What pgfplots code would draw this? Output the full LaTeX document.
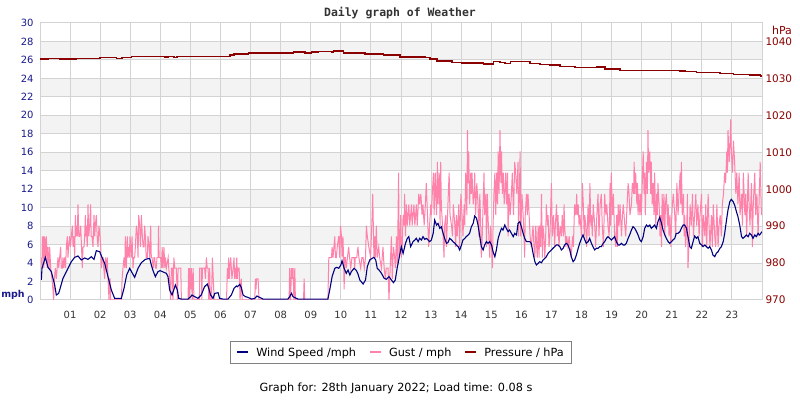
\documentclass[border=0pt]{standalone}
\usepackage{fontspec}
\setmainfont{DejaVu Sans}
\newfontfamily\titlefont{DejaVu Sans Mono}
\usepackage{pgfplots}
\pgfplotsset{compat=1.18}

\definecolor{windblue}{RGB}{0,0,128}
\definecolor{gustpink}{RGB}{255,130,170}
\definecolor{presred}{RGB}{139,0,0}
\definecolor{tickblue}{RGB}{26,26,140}
\definecolor{gridgray}{RGB}{211,211,211}
\definecolor{bandgray}{RGB}{243,243,243}
\definecolor{labgray}{RGB}{51,51,51}

\pgfplotsset{chartbox/.style={at={(40bp,100bp)}, anchor=south west,
  width=722bp, height=277bp, scale only axis, xmin=0, xmax=24}}

\begin{document}
\begin{tikzpicture}
\useasboundingbox (0,0) rectangle (800bp,400bp);

% background bands
\begin{axis}[chartbox, ymin=0, ymax=30, hide axis]
\addplot[draw=none, fill=bandgray] coordinates {(0,2) (24,2) (24,4) (0,4) (0,2)};
\addplot[draw=none, fill=bandgray] coordinates {(0,6) (24,6) (24,8) (0,8) (0,6)};
\addplot[draw=none, fill=bandgray] coordinates {(0,10) (24,10) (24,12) (0,12) (0,10)};
\addplot[draw=none, fill=bandgray] coordinates {(0,14) (24,14) (24,16) (0,16) (0,14)};
\addplot[draw=none, fill=bandgray] coordinates {(0,18) (24,18) (24,20) (0,20) (0,18)};
\addplot[draw=none, fill=bandgray] coordinates {(0,22) (24,22) (24,24) (0,24) (0,22)};
\addplot[draw=none, fill=bandgray] coordinates {(0,26) (24,26) (24,28) (0,28) (0,26)};
\end{axis}

% left axis: wind and gust in mph
\begin{axis}[
  chartbox, ymin=0, ymax=30,
  xtick={1,...,23},
  xticklabels={01,02,03,04,05,06,07,08,09,10,11,12,13,14,15,16,17,18,19,20,21,22,23},
  ytick={0,2,...,30},
  grid=major,
  major grid style={gridgray, line width=1bp},
  major tick length=0pt,
  axis line style={gridgray, line width=1bp},
  /pgf/number format/assume math mode=true,
  tick label style={font=\fontsize{10}{12}\selectfont},
  xticklabel style={labgray, yshift=-8bp},
  yticklabel style={tickblue, xshift=-3bp},
]
% gust
\addplot[gustpink, line width=1bp] coordinates {
(0.044,4.6)(0.066,3.45)(0.078,6.9)(0.10,4.6)(0.111,6.9)(0.13,3.45)(0.155,6.9)(0.18,4.6)(0.211,6.9)(0.24,3.45)
(0.266,5.75)(0.30,3.45)(0.321,5.75)(0.355,3.45)(0.399,2.3)(0.43,1.15)(0.454,0)(0.48,2.3)(0.510,3.45)(0.543,2.3)
(0.57,3.45)(0.598,4.6)(0.62,3.45)(0.654,4.6)(0.687,5.75)(0.709,3.45)(0.74,3.45)(0.765,4.6)(0.79,3.45)(0.820,4.6)
(0.85,3.45)(0.876,5.75)(0.909,6.9)(0.93,4.6)(0.953,5.75)(0.986,6.9)(1.01,5.75)(1.042,6.9)(1.075,8.05)(1.10,5.75)
(1.130,6.9)(1.153,4.6)(1.175,9.2)(1.20,6.9)(1.219,8.05)(1.24,6.9)(1.263,10.35)(1.29,6.9)(1.319,6.9)(1.352,8.05)
(1.38,5.75)(1.407,3.45)(1.43,5.75)(1.463,5.75)(1.485,6.9)(1.507,9.2)(1.52,6.9)(1.540,8.05)(1.57,5.75)(1.596,10.35)
(1.62,6.9)(1.651,8.05)(1.684,10.35)(1.70,6.9)(1.729,6.9)(1.762,5.75)(1.795,9.2)(1.82,6.9)(1.840,8.05)(1.873,9.2)
(1.90,6.9)(1.928,5.75)(1.961,8.05)(1.995,6.9)(2.02,5.75)(2.039,3.45)(2.07,4.6)(2.094,4.6)(2.12,3.45)(2.150,2.3)
(2.18,4.6)(2.205,3.45)(2.238,4.6)(2.261,2.3)(2.294,0)(2.31,2.3)(2.327,2.3)(2.35,0)(2.704,0)(2.73,2.3)
(2.759,3.45)(2.793,4.6)(2.82,3.45)(2.837,6.9)(2.870,3.45)(2.903,6.9)(2.92,4.6)(2.948,5.75)(2.97,4.6)(2.992,6.9)
(3.036,4.6)(3.06,6.9)(3.092,3.45)(3.12,4.6)(3.147,4.6)(3.17,5.75)(3.203,8.05)(3.236,6.9)(3.26,4.6)(3.280,9.2)
(3.313,8.05)(3.34,5.75)(3.369,9.2)(3.402,6.9)(3.43,5.75)(3.458,5.75)(3.48,8.05)(3.502,6.9)(3.53,4.6)(3.568,4.6)
(3.59,6.9)(3.624,5.75)(3.65,4.6)(3.679,8.05)(3.70,4.6)(3.723,4.6)(3.768,3.45)(3.79,4.6)(3.812,4.6)(3.84,3.45)
(3.867,3.45)(3.89,4.6)(3.923,4.6)(3.94,8.05)(3.96,4.6)(4.01,4.6)(4.04,3.45)(4.06,5.75)(4.09,3.45)(4.12,5.75)
(4.15,3.45)(4.17,4.6)(4.20,3.45)(4.26,4.6)(4.28,3.45)(4.31,2.3)(4.34,0)(4.37,3.45)(4.40,3.45)(4.42,0)
(4.45,4.6)(4.48,3.45)(4.53,3.45)(4.57,0)(4.59,3.45)(4.68,3.45)(4.70,0)(4.92,0)(4.94,3.45)(4.96,0)
(4.98,3.45)(5.01,1.15)(5.03,3.45)(5.06,0)(5.09,3.45)(5.12,0)(5.30,0)(5.31,3.45)(5.36,3.45)(5.38,0)
(5.40,3.45)(5.47,3.45)(5.50,2.3)(5.53,4.6)(5.56,3.45)(5.59,3.45)(5.61,0)(5.64,3.45)(5.66,0)(5.70,0)
(5.73,4.6)(5.76,2.3)(5.79,0)(6.20,0)(6.23,3.45)(6.25,2.3)(6.27,4.6)(6.29,2.3)(6.31,3.45)(6.34,4.6)
(6.36,3.45)(6.38,2.3)(6.42,3.45)(6.45,4.6)(6.47,2.3)(6.49,3.45)(6.52,2.3)(6.54,4.6)(6.56,2.3)(6.58,3.45)
(6.62,3.45)(6.65,0)(6.69,2.3)(6.72,0)(7.14,0)(7.16,2.3)(7.18,1.15)(7.20,2.3)(7.25,2.3)(7.28,0)
(8.28,0)(8.30,3.45)(8.33,0)(8.36,3.45)(8.38,2.3)(8.41,3.45)(8.44,0)(8.47,3.45)(8.49,0)(8.76,0)
(8.78,2.3)(8.80,0)(9.57,0)(9.60,4.6)(9.65,4.6)(9.69,4.6)(9.71,5.75)(9.74,4.6)(9.77,5.75)(9.80,6.9)
(9.82,4.6)(9.85,4.6)(9.88,5.75)(9.93,6.9)(9.96,4.6)(9.99,8.05)(10.02,6.9)(10.04,4.6)(10.07,6.9)(10.09,4.6)
(10.11,1.15)(10.13,4.6)(10.15,4.6)(10.18,3.45)(10.22,4.6)(10.26,5.75)(10.29,4.6)(10.33,3.45)(10.37,4.6)(10.44,4.6)
(10.46,3.45)(10.48,4.6)(10.53,4.6)(10.57,5.75)(10.60,4.6)(10.66,3.45)(10.70,4.6)(10.74,4.6)(10.78,3.45)(10.82,4.6)
(10.85,8.05)(10.88,6.9)(10.93,5.75)(10.99,4.6)(11.04,9.2)(11.06,11.5)(11.08,8.05)(11.10,4.6)(11.13,6.9)(11.15,4.6)
(11.18,8.05)(11.21,4.6)(11.26,5.75)(11.29,4.6)(11.35,3.45)(11.40,5.75)(11.44,3.45)(11.48,2.3)(11.51,3.45)(11.57,3.45)
(11.60,0)(11.64,3.45)(11.68,6.9)(11.71,2.3)(11.75,5.75)(11.79,4.6)(11.81,3.45)(11.85,6.9)(11.88,3.45)(11.92,13.8)
(11.94,4.6)(11.97,6.9)(11.99,9.2)(12.01,4.6)(12.04,5.75)(12.07,9.2)(12.10,8.05)(12.12,11.5)(12.15,6.9)(12.18,10.35)
(12.21,8.05)(12.26,10.35)(12.29,8.05)(12.32,9.2)(12.35,10.35)(12.37,8.05)(12.40,9.2)(12.43,10.35)(12.46,8.05)(12.51,10.35)
(12.54,8.05)(12.59,11.5)(12.62,10.35)(12.66,11.5)(12.70,9.2)(12.73,10.35)(12.77,8.05)(12.81,10.35)(12.84,12.65)(12.88,9.2)
(12.92,5.75)(12.95,8.05)(12.99,10.35)(13.01,9.2)(13.04,11.5)(13.08,13.8)(13.10,9.2)(13.12,11.5)(13.14,13.8)(13.18,9.2)
(13.21,14.95)(13.23,10.35)(13.27,13.8)(13.30,8.05)(13.32,14.95)(13.34,10.35)(13.38,8.05)(13.40,6.9)(13.43,4.6)(13.45,8.05)
(13.49,9.2)(13.51,5.75)(13.56,10.35)(13.60,13.8)(13.63,9.2)(13.68,8.05)(13.71,6.9)(13.74,10.35)(13.79,8.05)(13.82,5.75)
(13.84,9.2)(13.87,6.9)(13.92,10.35)(13.95,5.75)(13.99,11.5)(14.03,9.2)(14.06,6.9)(14.10,10.35)(14.12,8.05)(14.15,13.8)
(14.19,9.2)(14.21,18.4)(14.23,12.65)(14.25,16.1)(14.28,10.35)(14.32,13.8)(14.34,11.5)(14.36,13.8)(14.40,10.35)(14.43,11.5)
(14.45,13.8)(14.48,9.2)(14.52,12.65)(14.56,10.35)(14.59,6.9)(14.62,11.5)(14.65,8.05)(14.67,4.6)(14.69,5.75)(14.73,10.35)
(14.76,13.8)(14.78,9.2)(14.82,11.5)(14.84,5.75)(14.87,11.5)(14.89,9.2)(14.92,6.9)(14.95,4.6)(14.98,8.05)(15.01,5.75)
(15.04,3.45)(15.06,8.05)(15.09,11.5)(15.12,13.8)(15.15,9.2)(15.18,13.8)(15.21,10.35)(15.23,16.1)(15.26,11.5)(15.29,18.4)
(15.32,12.65)(15.34,16.1)(15.37,11.5)(15.40,13.8)(15.43,10.35)(15.45,11.5)(15.48,13.8)(15.51,10.35)(15.54,13.8)(15.56,6.9)
(15.59,11.5)(15.63,9.2)(15.67,11.5)(15.70,13.8)(15.74,9.2)(15.78,14.95)(15.81,13.8)(15.85,11.5)(15.89,14.95)(15.91,6.9)
(15.96,16.1)(15.98,6.9)(16.00,9.2)(16.02,11.5)(16.06,9.2)(16.09,6.9)(16.11,4.6)(16.13,9.2)(16.17,11.5)(16.20,9.2)
(16.22,11.5)(16.26,9.2)(16.29,6.9)(16.33,5.75)(16.36,6.9)(16.39,8.05)(16.42,5.75)(16.45,4.6)(16.48,8.05)(16.51,5.75)
(16.53,4.6)(16.56,8.05)(16.59,4.6)(16.61,8.05)(16.64,5.75)(16.67,11.5)(16.70,4.6)(16.72,8.05)(16.75,6.9)(16.78,4.6)
(16.81,6.9)(16.83,10.35)(16.87,8.05)(16.89,9.2)(16.92,5.75)(16.95,6.9)(17.00,12.65)(17.03,6.9)(17.07,9.2)(17.11,5.75)
(17.13,8.05)(17.17,10.35)(17.20,6.9)(17.22,9.2)(17.25,5.75)(17.29,8.05)(17.33,6.9)(17.36,9.2)(17.40,6.9)(17.42,10.35)
(17.44,8.05)(17.48,5.75)(17.51,6.9)(17.55,5.75)(17.59,6.9)(17.62,5.75)(17.66,4.6)(17.70,6.9)(17.73,5.75)(17.77,10.35)
(17.81,9.2)(17.84,11.5)(17.86,9.2)(17.89,10.35)(17.92,8.05)(17.95,9.2)(18.00,6.9)(18.03,12.65)(18.06,10.35)(18.09,6.9)
(18.11,9.2)(18.14,8.05)(18.17,5.75)(18.22,10.35)(18.25,6.9)(18.28,12.65)(18.31,8.05)(18.33,9.2)(18.36,6.9)(18.39,10.35)
(18.44,8.05)(18.47,5.75)(18.51,9.2)(18.55,11.5)(18.58,6.9)(18.62,10.35)(18.66,11.5)(18.69,8.05)(18.73,5.75)(18.77,11.5)
(18.81,9.2)(18.84,10.35)(18.88,8.05)(18.92,6.9)(18.95,12.65)(18.97,8.05)(18.99,13.8)(19.03,9.2)(19.06,11.5)(19.10,6.9)
(19.14,5.75)(19.17,9.2)(19.19,5.75)(19.22,10.35)(19.25,8.05)(19.28,10.35)(19.33,6.9)(19.36,9.2)(19.39,10.35)(19.44,8.05)
(19.47,6.9)(19.50,9.2)(19.55,12.65)(19.58,11.5)(19.61,9.2)(19.66,10.35)(19.69,12.65)(19.73,11.5)(19.75,14.95)(19.77,11.5)
(19.80,13.8)(19.84,10.35)(19.86,12.65)(19.88,9.2)(19.91,11.5)(19.94,9.2)(19.97,11.5)(19.99,9.2)(20.02,12.65)(20.05,16.1)
(20.08,11.5)(20.10,13.8)(20.12,9.2)(20.16,14.95)(20.19,11.5)(20.21,18.4)(20.23,13.8)(20.27,16.1)(20.30,11.5)(20.32,14.95)
(20.35,10.35)(20.38,12.65)(20.41,9.2)(20.43,13.8)(20.47,8.05)(20.50,11.5)(20.52,9.2)(20.54,12.65)(20.58,10.35)(20.61,6.9)
(20.63,9.2)(20.66,5.75)(20.68,11.5)(20.71,8.05)(20.74,11.5)(20.77,6.9)(20.79,10.35)(20.82,11.5)(20.86,8.05)(20.88,10.35)
(20.91,6.9)(20.94,9.2)(20.97,5.75)(20.99,8.05)(21.02,10.35)(21.05,11.5)(21.10,9.2)(21.13,6.9)(21.17,12.65)(21.21,9.2)
(21.24,11.5)(21.28,13.8)(21.30,10.35)(21.32,14.95)(21.35,9.2)(21.39,11.5)(21.41,6.9)(21.43,9.2)(21.46,5.75)(21.50,8.05)
(21.52,11.5)(21.54,3.45)(21.58,6.9)(21.61,10.35)(21.65,8.05)(21.69,11.5)(21.72,6.9)(21.76,9.2)(21.80,11.5)(21.83,8.05)
(21.87,10.35)(21.91,6.9)(21.94,9.2)(21.99,11.5)(22.02,5.75)(22.05,9.2)(22.10,6.9)(22.13,10.35)(22.16,5.75)(22.21,11.5)
(22.24,8.05)(22.27,5.75)(22.32,9.2)(22.35,5.75)(22.38,10.35)(22.43,6.9)(22.46,5.75)(22.50,10.35)(22.54,5.75)(22.57,8.05)
(22.61,9.2)(22.65,6.9)(22.68,10.35)(22.72,11.5)(22.76,13.8)(22.79,12.65)(22.83,16.1)(22.85,13.8)(22.87,18.4)(22.91,14.95)
(22.94,17.25)(22.96,19.55)(22.98,16.1)(23.02,13.8)(23.05,17.25)(23.09,14.95)(23.13,11.5)(23.16,13.8)(23.20,10.35)(23.24,13.8)
(23.27,9.2)(23.32,11.5)(23.35,8.05)(23.38,13.8)(23.43,9.2)(23.46,11.5)(23.49,6.9)(23.54,13.8)(23.57,10.35)(23.60,8.05)
(23.65,12.65)(23.68,5.75)(23.71,10.35)(23.76,13.8)(23.79,9.2)(23.83,11.5)(23.87,6.9)(23.90,10.35)(23.94,14.95)(23.98,9.2)
};

% wind speed
\addplot[windblue, line width=1.1bp] coordinates {
(0.044,2.17)(0.066,3.43)(0.177,4.62)(0.266,3.54)(0.377,3.07)(0.488,1.62)(0.543,0.54)(0.621,0.72)(0.765,2.35)(0.931,3.43)
(1.042,4.15)(1.153,4.62)(1.263,4.77)(1.374,4.33)(1.485,4.55)(1.596,4.40)(1.707,4.69)(1.795,4.40)(1.873,5.34)(1.984,5.23)
(2.061,4.62)(2.150,3.97)(2.261,2.53)(2.371,1.08)(2.482,0.18)(2.704,0.18)(2.793,1.26)(2.881,2.71)(2.981,3.43)(3.147,2.45)
(3.258,3.43)(3.369,4.04)(3.502,4.40)(3.646,4.51)(3.701,3.79)(3.757,3.18)(3.834,2.53)(3.923,3.07)(3.99,3.18)(4.20,2.89)
(4.255,2.53)(4.31,1.08)(4.39,0.54)(4.50,1.62)(4.566,1.08)(4.61,0.18)(4.70,0.1)(4.92,0.1)(5.01,0.36)(5.05,0.54)
(5.14,0.36)(5.25,0.18)(5.36,0.54)(5.47,1.44)(5.56,1.73)(5.61,1.26)(5.67,0.54)(5.75,0.18)(5.81,0.72)(5.92,0.79)
(5.97,0.18)(6.08,0.1)(6.25,0.1)(6.36,0.54)(6.45,1.26)(6.53,1.52)(6.56,1.44)(6.64,1.70)(6.69,1.37)(6.75,0.54)
(6.83,0.36)(6.91,0.29)(7.03,0.1)(7.14,0.18)(7.21,0.43)(7.30,0.29)(7.41,0.1)(8.24,0.1)(8.30,0.36)(8.36,0.72)
(8.41,0.36)(8.52,0.18)(8.58,0.1)(9.57,0.1)(9.63,1.08)(9.71,2.53)(9.80,3.43)(9.86,3.54)(9.93,3.43)(10.00,3.79)
(10.04,4.26)(10.11,3.43)(10.18,2.89)(10.24,3.25)(10.30,2.71)(10.35,3.07)(10.44,3.43)(10.52,3.18)(10.57,2.82)(10.63,2.17)
(10.74,1.73)(10.82,2.17)(10.88,3.61)(10.96,4.33)(11.04,4.51)(11.10,4.62)(11.16,4.33)(11.21,3.43)(11.27,3.25)(11.35,2.89)
(11.44,2.35)(11.51,2.24)(11.60,2.53)(11.68,2.17)(11.75,1.88)(11.81,2.17)(11.88,3.61)(11.90,3.9)(12.01,5.78)(12.07,5.05)
(12.15,6.14)(12.21,6.68)(12.26,6.86)(12.32,5.78)(12.40,6.32)(12.46,6.50)(12.51,6.68)(12.57,6.32)(12.62,6.68)(12.68,6.50)
(12.73,6.86)(12.79,6.57)(12.84,6.68)(12.90,6.50)(12.95,6.32)(13.01,6.50)(13.07,7.22)(13.12,8.66)(13.18,8.12)(13.23,8.30)
(13.29,7.76)(13.34,7.94)(13.40,7.22)(13.45,6.68)(13.51,6.14)(13.56,6.21)(13.62,6.68)(13.68,6.50)(13.73,6.32)(13.79,6.14)
(13.84,5.96)(13.90,5.78)(13.95,5.42)(14.01,5.96)(14.06,6.50)(14.12,6.68)(14.17,6.86)(14.23,7.04)(14.28,7.22)(14.34,7.94)
(14.40,8.30)(14.45,9.10)(14.51,8.85)(14.56,8.12)(14.62,6.86)(14.67,5.78)(14.73,5.42)(14.78,5.96)(14.84,6.32)(14.89,6.14)
(14.95,6.32)(15.01,5.96)(15.06,5.23)(15.12,4.69)(15.17,5.42)(15.23,6.68)(15.28,7.22)(15.34,7.76)(15.39,7.58)(15.45,8.12)
(15.50,7.76)(15.56,7.40)(15.61,7.58)(15.67,7.22)(15.73,6.86)(15.78,7.22)(15.84,7.04)(15.89,8.30)(15.95,8.48)(16.00,7.94)
(16.06,7.22)(16.11,6.68)(16.17,6.32)(16.22,6.32)(16.28,6.32)(16.33,6.14)(16.39,5.05)(16.45,4.15)(16.50,3.79)(16.56,3.97)
(16.61,4.15)(16.67,4.04)(16.72,4.33)(16.78,4.51)(16.83,4.69)(16.89,5.05)(16.94,5.23)(17.00,5.42)(17.05,5.60)(17.11,5.78)
(17.17,5.96)(17.22,5.96)(17.28,5.78)(17.33,5.42)(17.39,5.60)(17.44,5.96)(17.50,6.14)(17.55,5.96)(17.61,5.42)(17.66,4.69)
(17.72,4.15)(17.77,4.33)(17.83,4.87)(17.89,5.60)(17.94,6.14)(18.00,6.68)(18.05,7.04)(18.11,6.50)(18.16,6.14)(18.22,6.32)
(18.27,6.68)(18.33,6.14)(18.38,5.78)(18.44,5.42)(18.49,5.60)(18.55,5.60)(18.61,5.78)(18.66,5.78)(18.72,6.14)(18.77,6.32)
(18.83,6.68)(18.88,6.86)(18.94,6.68)(18.99,6.50)(19.05,6.68)(19.10,6.86)(19.16,6.32)(19.22,5.96)(19.27,5.96)(19.33,6.14)
(19.38,5.96)(19.44,5.96)(19.49,6.14)(19.55,6.68)(19.60,7.04)(19.66,7.58)(19.71,7.94)(19.77,7.76)(19.83,7.40)(19.88,7.04)
(19.94,6.50)(19.99,6.32)(20.05,6.86)(20.10,7.76)(20.16,8.12)(20.21,7.94)(20.27,8.12)(20.32,7.76)(20.38,7.94)(20.43,8.12)
(20.49,7.76)(20.54,8.48)(20.60,8.95)(20.66,8.30)(20.71,7.58)(20.77,7.04)(20.82,6.68)(20.88,6.32)(20.93,6.14)(20.99,6.32)
(21.04,6.50)(21.10,6.68)(21.15,7.22)(21.21,7.22)(21.27,7.40)(21.32,7.76)(21.38,8.12)(21.43,8.12)(21.49,7.76)(21.54,6.86)
(21.60,5.78)(21.65,5.60)(21.71,6.32)(21.76,6.93)(21.82,6.68)(21.87,6.86)(21.93,6.14)(21.99,5.96)(22.04,5.78)(22.10,5.96)
(22.15,5.78)(22.21,5.60)(22.26,5.78)(22.32,5.42)(22.37,4.87)(22.43,4.69)(22.48,5.05)(22.54,5.23)(22.60,5.60)(22.65,5.78)
(22.71,6.32)(22.76,7.22)(22.82,8.66)(22.87,9.75)(22.93,10.65)(22.98,10.90)(23.04,10.65)(23.09,10.29)(23.15,9.57)(23.20,9.03)
(23.26,8.12)(23.32,6.86)(23.37,6.68)(23.43,6.86)(23.48,7.04)(23.54,6.86)(23.59,7.22)(23.65,7.04)(23.70,6.68)(23.76,7.04)
(23.81,6.86)(23.87,7.22)(23.92,7.04)(24.00,7.40)
};
\draw[gridgray, line width=2.5bp] (rel axis cs:0,0) -- (rel axis cs:0,1);
\end{axis}

% right axis: pressure in hPa
\begin{axis}[
  chartbox, ymin=970, ymax=1045,
  axis x line=none, axis y line*=right,
  y axis line style={draw=none},
  ytick={970,980,...,1040},
  major tick length=0pt,
  /pgf/number format/assume math mode=true,
  /pgf/number format/1000 sep={},
  yticklabel style={presred, font=\fontsize{10.5}{12}\selectfont},
  legend columns=-1,
  legend style={at={(axis description cs:0.5,-0.1895)}, anchor=center,
    draw={rgb,255:red,128;green,128;blue,128}, line width=1bp,
    font=\fontsize{11.3}{13}\selectfont, inner xsep=6bp, inner ysep=4bp,
    /tikz/every odd column/.append style={column sep=5bp},
    /tikz/every even column/.append style={column sep=11bp}},
  legend image code/.code={\draw[#1, line width=2bp] (0bp,0bp) -- (11bp,0bp);},
]
\addlegendimage{windblue}
\addlegendentry{Wind Speed /mph}
\addlegendimage{gustpink}
\addlegendentry{Gust / mph}
\addplot[presred, line width=1.4bp, const plot] coordinates {
(0,1035.2)(0.28,1035.4)(0.67,1035.2)(1.22,1035.4)(2.00,1035.7)(2.55,1035.4)(2.72,1035.7)(3.05,1036.0)(4.16,1035.8)(4.25,1036.0)
(4.45,1035.7)(4.55,1036.0)(6.32,1036.3)(6.45,1036.6)(6.93,1036.9)(8.42,1037.2)(8.81,1036.9)(9.03,1037.2)(9.25,1037.3)(9.70,1037.2)
(9.75,1037.4)(10.08,1036.9)(10.80,1036.6)(11.41,1036.3)(11.97,1035.8)(12.80,1035.6)(12.97,1035.2)(13.19,1034.7)(13.69,1034.35)(14.02,1034.2)
(14.74,1033.9)(15.07,1034.5)(15.29,1034.35)(15.46,1034.1)(15.63,1034.5)(16.29,1034.1)(16.62,1033.8)(16.95,1033.6)(17.29,1033.2)(17.79,1032.9)
(18.51,1033.1)(18.78,1032.5)(19.28,1032.2)(21.28,1032.0)(21.44,1031.9)(21.83,1031.6)(22.61,1031.4)(23.05,1031.1)(23.60,1030.9)(23.94,1030.6)
(24,1030.6)
};
\addlegendentry{Pressure / hPa}
\end{axis}

\node[labgray] at (400bp,387bp) {\titlefont\bfseries\fontsize{11.5}{13}\selectfont Daily graph of Weather};
\node[tickblue] at (13bp,105bp) {\bfseries\fontsize{9.5}{11}\selectfont mph};
\node[presred] at (782bp,370bp) {\fontsize{11}{13}\selectfont hPa};
\node[black] at (396bp,12bp) {\fontsize{11.3}{13}\selectfont Graph for: 28th January 2022; Load time: 0.08 s};
\end{tikzpicture}
\end{document}
